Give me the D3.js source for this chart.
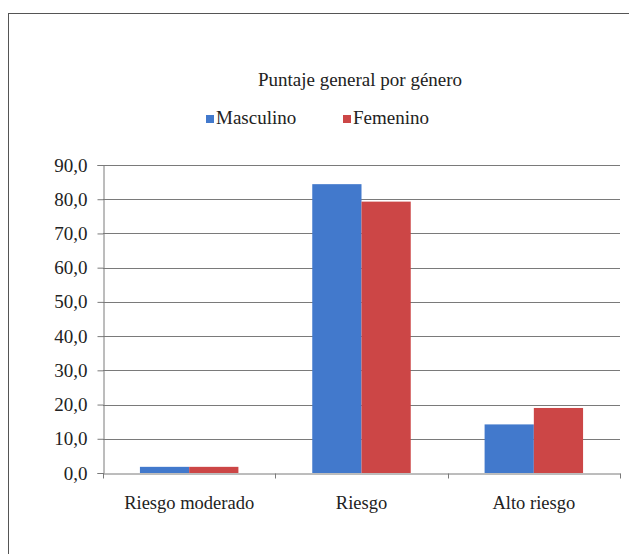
<!DOCTYPE html>
<html>
<head>
<meta charset="utf-8">
<script src="https://cdn.jsdelivr.net/npm/d3@7"></script>
<style>
  body { margin: 0; background: #fff; }
  svg text { font-family: 'Liberation Serif', Tinos, 'Times New Roman', 'DejaVu Serif', serif !important; fill: #222; }
</style>
</head>
<body>
<script>
const categories = ['Riesgo moderado', 'Riesgo', 'Alto riesgo']
const seriesNames = ['Masculino', 'Femenino']
const masculino = [1.8, 84.4, 14.2]
const femenino = [1.8, 79.3, 19.0]
const yTicks = [0, 10, 20, 30, 40, 50, 60, 70, 80, 90]
const colors = ['#4279cc', '#cc4646']

const width = 629
const height = 554
const margin = { top: 165, right: 9, bottom: 81, left: 103 }

const svg = d3.select('body')
  .append('svg')
  .attr('width', width)
  .attr('height', height)

// chart frame
svg.append('rect')
  .attr('x', 8.5)
  .attr('y', 13.5)
  .attr('width', 640)
  .attr('height', 600)
  .style('fill', 'none')
  .style('stroke', '#555')
  .style('stroke-width', 1)

const data = categories.map((c, i) => ({ category: c, values: [masculino[i], femenino[i]] }))

const x0 = d3.scaleBand()
  .domain(categories)
  .range([margin.left, width - margin.right])
  .paddingInner(0)
  .paddingOuter(0)

const x1 = d3.scaleBand()
  .domain(seriesNames)
  .range([0, x0.bandwidth()])
  .paddingInner(0)
  .paddingOuter(0.75)

const y = d3.scaleLinear()
  .domain([0, 90])
  .range([height - margin.bottom, margin.top])

// gridlines
svg.append('g')
  .selectAll('line')
  .data(yTicks.slice(1))
  .enter()
  .append('line')
  .attr('x1', margin.left)
  .attr('x2', width - margin.right)
  .attr('y1', d => Math.round(y(d)) + 0.5)
  .attr('y2', d => Math.round(y(d)) + 0.5)
  .style('stroke', '#7a7a7a')
  .style('stroke-width', 1)

// bars
const groups = svg.append('g')
  .selectAll('g')
  .data(data)
  .enter()
  .append('g')
  .attr('transform', d => `translate(${x0(d.category)},0)`)

groups.selectAll('rect')
  .data(d => d.values.map((v, i) => ({ key: seriesNames[i], value: v, i })))
  .enter()
  .append('rect')
  .attr('x', d => x1(d.key))
  .attr('y', d => y(d.value))
  .attr('width', x1.bandwidth())
  .attr('height', d => y(0) - y(d.value))
  .style('fill', d => colors[d.i])

// y axis
const yAxis = svg.append('g')
  .attr('transform', `translate(${margin.left + 0.5},0)`)
  .call(d3.axisLeft(y)
    .tickValues(yTicks)
    .tickSize(6)
    .tickPadding(10)
    .tickFormat(d => d3.format('.1f')(d).replace('.', ',')))
yAxis.select('.domain').style('stroke', '#7a7a7a')
yAxis.selectAll('.tick line').style('stroke', '#7a7a7a')
yAxis.selectAll('text')
  .style('font-size', '19px')
  .style('fill', '#222')

// x axis
const xAxis = svg.append('g')
  .attr('transform', `translate(0,${Math.round(y(0)) + 0.5})`)
  .call(d3.axisBottom(x0).tickSize(0).tickPadding(22))
xAxis.select('.domain').style('stroke', '#7a7a7a')
xAxis.selectAll('text')
  .style('font-size', '18.5px')
  .style('fill', '#222')

// category separators
xAxis.append('g')
  .selectAll('line')
  .data(categories.map(c => x0(c)).concat([x0.range()[1]]))
  .enter()
  .append('line')
  .attr('x1', d => Math.round(d) + 0.5)
  .attr('x2', d => Math.round(d) + 0.5)
  .attr('y1', 0)
  .attr('y2', 5)
  .style('stroke', '#7a7a7a')

// title
svg.append('text')
  .attr('x', 360)
  .attr('y', 86)
  .attr('text-anchor', 'middle')
  .style('font-size', '19px')
  .text('Puntaje general por género')

// legend
const legendX = [206, 343]
const legend = svg.append('g')
  .selectAll('g')
  .data(seriesNames)
  .enter()
  .append('g')
  .attr('transform', (d, i) => `translate(${legendX[i]},120)`)

legend.append('rect')
  .attr('x', 0)
  .attr('y', -5)
  .attr('width', 8)
  .attr('height', 8)
  .style('fill', (d, i) => colors[i])

legend.append('text')
  .attr('x', 10)
  .attr('y', 0)
  .attr('dominant-baseline', 'middle')
  .style('font-size', '19px')
  .text(d => d)
</script>
</body>
</html>
